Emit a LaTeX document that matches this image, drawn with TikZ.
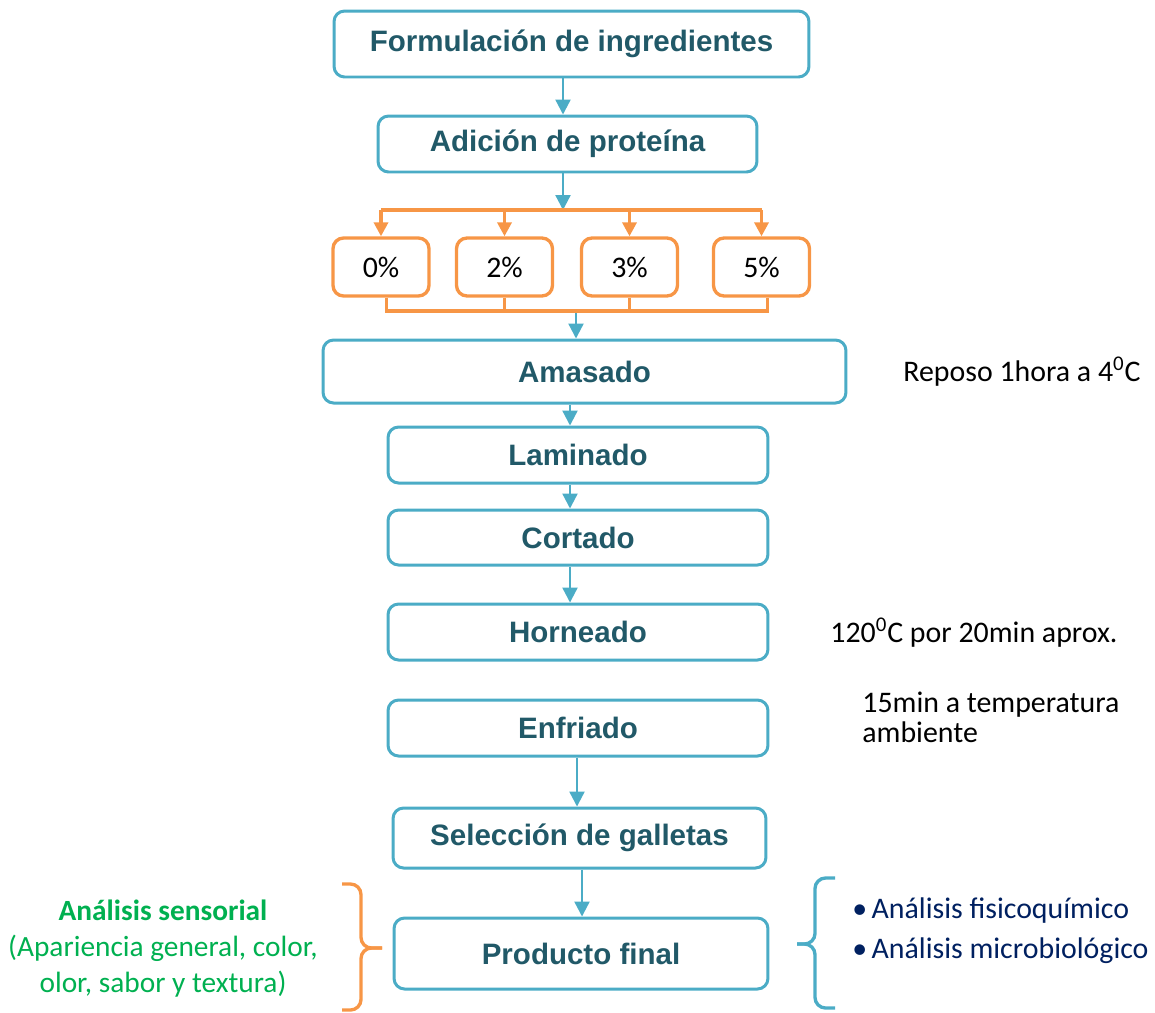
\documentclass[tikz,border=0pt]{standalone}
\usepackage{fontspec}
\setmainfont{Carlito}
\newfontfamily\boxfont{Liberation Sans}
\usetikzlibrary{arrows.meta,calc}
\definecolor{bblue}{HTML}{4BACC6}
\definecolor{btext}{HTML}{215968}
\definecolor{oor}{HTML}{F79646}
\definecolor{ggreen}{HTML}{00B050}
\definecolor{navy}{HTML}{002060}
\begin{document}
\begin{tikzpicture}[x=0.02cm,y=-0.02cm,
 box/.style={draw=bblue, line width=1.7pt, rounded corners=6pt, fill=white,
   font=\boxfont\bfseries\fontsize{16.8}{20}\selectfont, text=btext, inner sep=0pt},
 pbox/.style={draw=oor, line width=1.9pt, rounded corners=6pt, fill=white,
   font=\fontsize{17}{20}\selectfont, minimum width=1.92cm, minimum height=1.16cm, inner sep=0pt},
 barrow/.style={draw=bblue, line width=1.3pt, -{Triangle[length=8.5pt,width=8.5pt]}},
 oarrow/.style={draw=oor, line width=1.9pt, -{Triangle[length=8pt,width=8pt]}},
 oline/.style={draw=oor, line width=1.9pt},
 bline/.style={draw=bblue, line width=1.9pt},
 note/.style={font=\fontsize{17}{20}\selectfont, inner sep=0pt}]
\useasboundingbox (0,0) rectangle (1155,1012);

% main boxes
\node[box, minimum width=9.5cm, minimum height=1.32cm] (F) at (571.5,44) {Formulación de ingredientes};
\node[box, minimum width=7.58cm, minimum height=1.12cm] (A) at (567.5,144) {Adición de proteína};
\node[pbox] (p0) at (381,267) {0\%};
\node[pbox] (p2) at (504.5,267) {2\%};
\node[pbox] (p3) at (629.5,267) {3\%};
\node[pbox] (p5) at (761.5,267) {5\%};
\node[box, minimum width=10.46cm, minimum height=1.26cm] (Am) at (584.5,371.5) {Amasado};
\node[box, minimum width=7.6cm, minimum height=1.12cm] (L) at (578,455) {Laminado};
\node[box, minimum width=7.6cm, minimum height=1.1cm] (C) at (578,537.5) {Cortado};
\node[box, minimum width=7.6cm, minimum height=1.12cm] (H) at (578,632) {Horneado};
\node[box, minimum width=7.6cm, minimum height=1.12cm] (E) at (578,728) {Enfriado};
\node[box, minimum width=7.46cm, minimum height=1.2cm] (S) at (579.5,838) {Selección de galletas};
\node[box, minimum width=7.48cm, minimum height=1.42cm] (P) at (581,953.5) {Producto final};

% side notes
\node[note, anchor=west] (rep) at (903,372) {Reposo 1hora a 4\textsuperscript{0}C};
\node[note, anchor=west] (hor) at (830,633) {120\textsuperscript{0}C por 20min aprox.};
\node[note, anchor=north west, align=left, font=\fontsize{17}{17}\selectfont] (enf) at (862,692) {15min a temperatura\\ambiente};
\node[note, align=center, text=ggreen, font=\fontsize{16.7}{20.5}\selectfont] (sens) at (163,949)
  {\textbf{Análisis sensorial}\\(Apariencia general, color,\\olor, sabor y textura)};
\node[note, anchor=west, text=navy] (fq) at (852,911) {•\hspace{2.5pt}Análisis fisicoquímico};
\node[note, anchor=west, text=navy] (mb) at (852,951) {•\hspace{2.5pt}Análisis microbiológico};

% helper coordinates
\coordinate (a1) at (563,0);
\coordinate (bar) at (0,210);
\coordinate (bot) at (576,311);
\coordinate (a4) at (570,0);
\coordinate (a7) at (577,0);
\coordinate (a8) at (582,0);

% blue arrows
\draw[barrow] (F.south -| a1) -- (A.north -| a1);
\draw[barrow] (A.south -| a1) -- (bar -| a1);
\draw[barrow] (bot) -- (Am.north -| bot);
\draw[barrow] (Am.south -| a4) -- (L.north -| a4);
\draw[barrow] (L.south -| a4) -- (C.north -| a4);
\draw[barrow] (C.south -| a4) -- (H.north -| a4);
\draw[barrow] (E.south -| a7) -- (S.north -| a7);
\draw[barrow] (S.south -| a8) -- (P.north -| a8);

% orange distribution
\draw[oline] (p0.north |- bar) -- (p5.north |- bar);
\foreach \p in {p0,p2,p3,p5}{\draw[oarrow] (\p.north |- bar) -- (\p.north);}
\draw[oline] ([xshift=3pt]p0.south) -- ([xshift=3pt]p0.south |- bot) -- ([xshift=3.5pt]p5.south |- bot) -- ([xshift=3.5pt]p5.south);
\draw[oline] (p2.south) -- (p2.south |- bot);
\draw[oline] (p3.south) -- (p3.south |- bot);

% braces
\draw[oline, rounded corners=6pt] (342,884) -- (361,884) -- (361,948) -- (382,948);
\draw[oline, rounded corners=6pt] (382,948) -- (361,948) -- (361,1010) -- (342,1010);
\draw[bline, rounded corners=6pt] (835,878) -- (815,878) -- (815,944) -- (797,944);
\draw[bline, rounded corners=6pt] (797,944) -- (815,944) -- (815,1008) -- (835,1008);
\end{tikzpicture}
\end{document}
